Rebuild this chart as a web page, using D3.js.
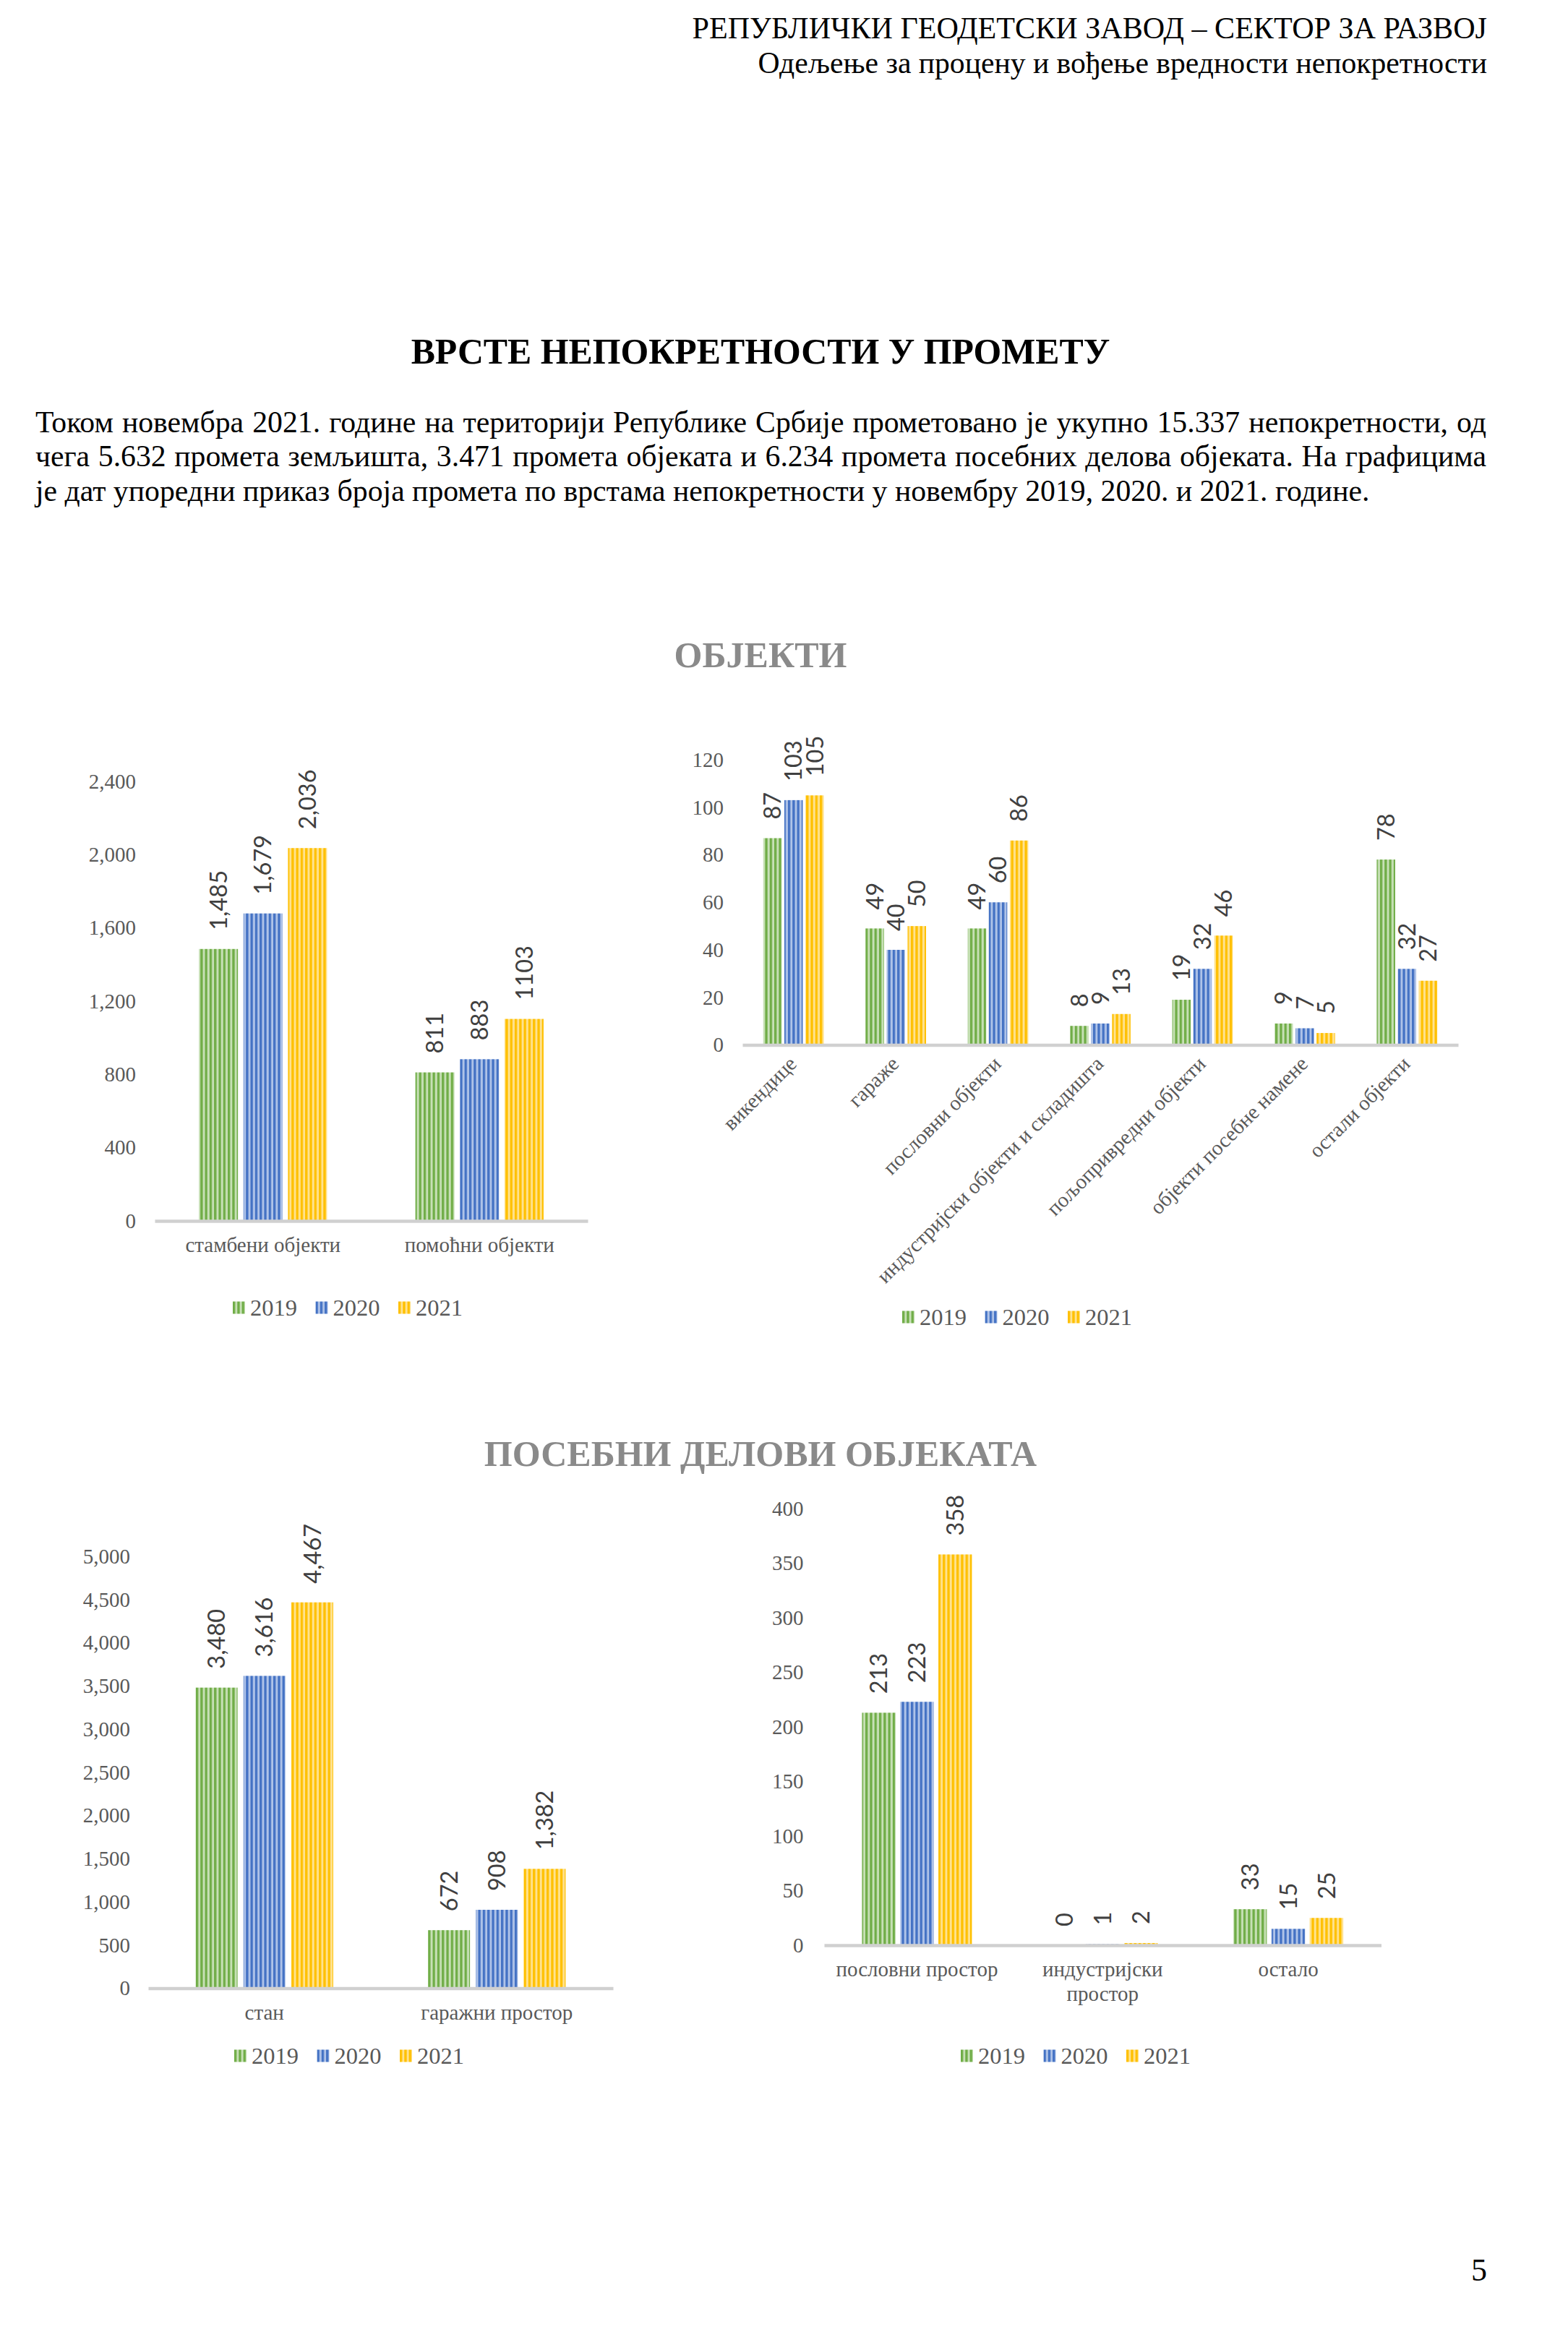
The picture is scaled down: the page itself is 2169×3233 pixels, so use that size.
<!DOCTYPE html>
<html><head><meta charset="utf-8">
<script src="https://cdn.jsdelivr.net/npm/d3@7"></script>
<style>html,body{margin:0;padding:0;background:#fff}svg{display:block}</style>
</head><body>
<svg id="page" width="2169" height="3233"></svg>
<script>
// ---------------- DATA ----------------
const years = ["2019", "2020", "2021"];

const catsStamb = ["стамбени објекти", "помоћни објекти"];
const stamb2019 = [1485, 811];
const stamb2020 = [1679, 883];
const stamb2021 = [2036, 1103];
const stambLabels = [["1,485", "811"], ["1,679", "883"], ["2,036", "1103"]];
const stambTicks = [0, 400, 800, 1200, 1600, 2000, 2400];

const catsOst = ["викендице", "гараже", "пословни објекти", "индустријски објекти и складишта",
  "пољопривредни објекти", "објекти посебне намене", "остали објекти"];
const ost2019 = [87, 49, 49, 8, 19, 9, 78];
const ost2020 = [103, 40, 60, 9, 32, 7, 32];
const ost2021 = [105, 50, 86, 13, 46, 5, 27];
const ostTicks = [0, 20, 40, 60, 80, 100, 120];

const catsStan = ["стан", "гаражни простор"];
const stan2019 = [3480, 672];
const stan2020 = [3616, 908];
const stan2021 = [4467, 1382];
const stanTicks = [0, 500, 1000, 1500, 2000, 2500, 3000, 3500, 4000, 4500, 5000];

const catsPosl = [["пословни простор"], ["индустријски", "простор"], ["остало"]];
const posl2019 = [213, 0, 33];
const posl2020 = [223, 1, 15];
const posl2021 = [358, 2, 25];
const poslTicks = [0, 50, 100, 150, 200, 250, 300, 350, 400];

// ---------------- STYLE ----------------
const SERIF = "'Liberation Serif','Times New Roman',serif";
const SANS = "Lato,'Open Sans',sans-serif";
const dark = { "2019": "#70AD47", "2020": "#4472C4", "2021": "#FFC000" };
const light = { "2019": "#C7E0B6", "2020": "#AFC3E8", "2021": "#FFE28F" };

const svg = d3.select("#page");
const defs = svg.append("defs");
years.forEach(y => {
  const p = defs.append("pattern").attr("id", "pat" + y)
    .attr("patternUnits", "userSpaceOnUse").attr("width", 6.3).attr("height", 10);
  p.append("rect").attr("width", 6.3).attr("height", 10).attr("fill", light[y]);
  p.append("rect").attr("width", 3.3).attr("height", 10).attr("fill", dark[y]);
});

// ---------------- PAGE TEXT ----------------
function txt(x, y, s, size, opts = {}) {
  return svg.append("text").attr("x", x).attr("y", y).text(s)
    .attr("font-family", opts.family || SERIF).attr("font-size", size)
    .attr("font-weight", opts.weight || "normal")
    .attr("text-anchor", opts.anchor || "start")
    .attr("fill", opts.fill || "#000");
}
// scale a text's font size so that it spans the given width
function fit(t, width) {
  const size = +t.attr("font-size");
  const len = t.node().getComputedTextLength();
  t.attr("font-size", size * width / len);
  return size * width / len;
}
fit(txt(2057, 53, "РЕПУБЛИЧКИ ГЕОДЕТСКИ ЗАВОД – СЕКТОР ЗА РАЗВОЈ", 42, { anchor: "end" }), 1100);
fit(txt(2057, 101, "Одељење за процену и вођење вредности непокретности", 42, { anchor: "end" }), 1009);
fit(txt(1052, 503, "ВРСТЕ НЕПОКРЕТНОСТИ У ПРОМЕТУ", 48, { anchor: "middle", weight: "bold" }), 967);

const para = [
  "Током новембра 2021. године на територији Републике Србије прометовано је укупно 15.337 непокретности, од",
  "чега 5.632 промета земљишта, 3.471 промета објеката и 6.234 промета посебних делова објеката. На графицима",
  "је дат упоредни приказ броја промета по врстама непокретности у новембру 2019, 2020. и 2021. године."
];
const paraY = [598, 645, 693];
const last = txt(49, paraY[2], para[2], 42);
const bodySize = fit(last, 1846);
para.slice(0, 2).forEach((s, i) => {
  const t = txt(49, paraY[i], s, bodySize);
  const len = t.node().getComputedTextLength();
  const spaces = (s.match(/ /g) || []).length;
  t.attr("word-spacing", (2056 - 49 - len) / spaces);
});

txt(1052, 923, "ОБЈЕКТИ", 50, { anchor: "middle", weight: "bold", fill: "#8A8A8A" });
txt(1052, 2028, "ПОСЕБНИ ДЕЛОВИ ОБЈЕКАТА", 50, { anchor: "middle", weight: "bold", fill: "#8A8A8A" });
txt(2035, 3155, "5", 44);

// ---------------- CHART ----------------
function drawChart(c) {
  const g = svg.append("g");
  const y = d3.scaleLinear().domain([0, c.yMax]).range([c.yBase, c.yTop]);
  const x = d3.scaleBand().domain(d3.range(c.cats.length)).range([c.x0, c.x1]).padding(0);
  const gw = x.bandwidth() * 0.592;
  const xi = d3.scaleBand().domain(years).range([0, gw]).paddingInner(0.123).paddingOuter(0);

  // y axis labels
  const ya = g.append("g").attr("transform", `translate(${c.tickX},0)`)
    .call(d3.axisLeft(y).tickValues(c.ticks).tickSize(0).tickPadding(0).tickFormat(c.tickFmt));
  ya.select(".domain").remove();
  ya.selectAll("text").attr("font-family", SERIF).attr("font-size", 29).attr("fill", "#595959");

  // bars
  years.forEach((yr, si) => {
    const vals = c.series[si];
    g.append("g").selectAll("rect").data(vals).join("rect")
      .attr("x", (d, i) => x(i) + (x.bandwidth() - gw) / 2 + xi(yr))
      .attr("width", xi.bandwidth())
      .attr("y", d => y(d))
      .attr("height", d => c.yBase - y(d))
      .attr("fill", `url(#pat${yr})`);
    g.append("g").selectAll("text").data(vals).join("text")
      .attr("transform", (d, i) => `translate(${x(i) + (x.bandwidth() - gw) / 2 + xi(yr) + xi.bandwidth() / 2},${y(d) - 26}) rotate(-90)`)
      .attr("dy", "0.36em")
      .attr("font-family", SANS).attr("font-size", 32.5).attr("fill", "#404040")
      .text((d, i) => c.labels ? c.labels[si][i] : c.labelFmt(d));
  });

  // x axis line
  const xa = g.append("g").attr("transform", `translate(0,${c.yBase})`)
    .call(d3.axisBottom(x).tickSize(0).tickSizeOuter(0).tickFormat(() => ""));
  xa.select(".domain").attr("stroke", "#D0D0D0").attr("stroke-width", 4.5);
  xa.selectAll(".tick text").remove();

  // category labels
  const cl = g.append("g").attr("font-family", SERIF).attr("font-size", 29).attr("fill", "#595959");
  c.cats.forEach((cat, i) => {
    const cx = x(i) + x.bandwidth() / 2;
    if (c.rotate) {
      cl.append("text").attr("text-anchor", "end")
        .attr("transform", `translate(${cx + 6},${c.yBase + 28}) rotate(-45)`).text(cat);
    } else {
      const lines = Array.isArray(cat) ? cat : [cat];
      lines.forEach((ln, k) => {
        cl.append("text").attr("text-anchor", "middle")
          .attr("x", cx).attr("y", c.yBase + 43 + k * 34).text(ln);
      });
    }
  });

  // legend
  const lg = g.append("g").attr("transform", `translate(${c.legX},${c.legY})`);
  years.forEach((yr, i) => {
    const it = lg.append("g").attr("transform", `translate(${i * 114.5},0)`);
    it.append("rect").attr("x", 0).attr("y", -8.5).attr("width", 17).attr("height", 17)
      .attr("fill", `url(#pat${yr})`);
    it.append("text").attr("x", 24).attr("y", 11).text(yr)
      .attr("font-family", SERIF).attr("font-size", 32.5).attr("fill", "#595959");
  });
}

drawChart({
  cats: catsStamb, series: [stamb2019, stamb2020, stamb2021], labels: stambLabels,
  yMax: 2400, ticks: stambTicks, tickFmt: d3.format(","),
  x0: 214, x1: 813, yBase: 1689, yTop: 1081, tickX: 188,
  legX: 322, legY: 1809
});
drawChart({
  cats: catsOst, series: [ost2019, ost2020, ost2021], labelFmt: d3.format("d"),
  yMax: 120, ticks: ostTicks, tickFmt: d3.format("d"),
  x0: 1027, x1: 2017, yBase: 1445.5, yTop: 1051, tickX: 1001, rotate: true,
  legX: 1248, legY: 1822
});
drawChart({
  cats: catsStan, series: [stan2019, stan2020, stan2021], labelFmt: d3.format(","),
  yMax: 5000, ticks: stanTicks, tickFmt: d3.format(","),
  x0: 205, x1: 848, yBase: 2750.5, yTop: 2153, tickX: 180,
  legX: 324, legY: 2844
});
drawChart({
  cats: catsPosl, series: [posl2019, posl2020, posl2021], labelFmt: d3.format("d"),
  yMax: 400, ticks: poslTicks, tickFmt: d3.format("d"),
  x0: 1140, x1: 1910.5, yBase: 2691, yTop: 2087, tickX: 1111.5,
  legX: 1329, legY: 2844
});
</script>
</body></html>
